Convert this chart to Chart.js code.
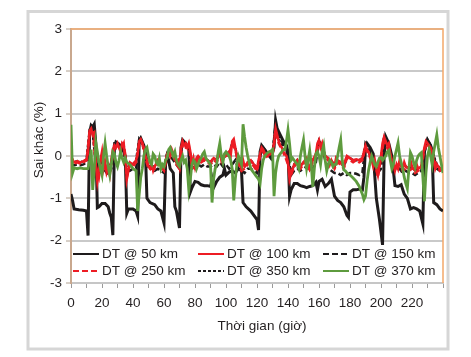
<!DOCTYPE html>
<html><head><meta charset="utf-8">
<script src="https://cdn.jsdelivr.net/npm/chart.js@4.4.1/dist/chart.umd.min.js"></script>
<style>html,body{margin:0;padding:0;background:#fff}#wrap{width:471px;height:357px;position:relative}</style>
</head><body><div id="wrap"><canvas id="c" width="471" height="357"></canvas></div>
<script>
// ---- data ----
const seriesLabels = ['DT @ 50 km','DT @ 100 km','DT @ 150 km','DT @ 250 km','DT @ 350 km','DT @ 370 km'];
const xTickLabels = [0,20,40,60,80,100,120,140,160,180,200,220];
const yTickLabels = [-3,-2,-1,0,1,2,3];

const dt50Hours = [0,1,2,5,8,10,11,12,13,14, 15,16,17,18,20,22,24,25,26,27, 28,29,31,33,35,36,37,40,42,43, 44,45,47,48,49,51,54,56,58,60, 61,62,63,64,66,67,68,70,71,72,
 74,76,77,78,80,82,84,86,88,90, 91,92,94,96,98,99,100,102,104,106, 108,110,111,113,116,118,120,121,122,123, 125,127,129,131,132,133,135,137,139,140,
 141,142,144,146,148,150,152,154,156,158, 159,160,162,164,166,168,170,172,174,176, 178,179,180,182,184,186,188,189,190,191, 193,195,197,199,201,202,203,205,207,209,
 211,213,215,217,219,221,223,225,227,228, 230,232,233,234,236,238,240];
const dt50Values = [-0.9,-1.05,-1.25,-1.27,-1.28,-1.3,-1.88,0.55,0.72,0.68, 0.75,0.3,-1.22,-1.2,-1.12,-1.12,-1.2,-1.35,-1.45,-1.87, 0.2,0.33,0.28,0.2,0.0,-1.35,-1.25,-1.25,-1.3,-1.42, 0.35,0.42,0.25,0.1,-1.0,-1.1,-1.15,-1.25,-1.3,-1.58, -0.2,0.0,-0.1,-0.3,-0.4,-1.2,-1.3,-1.7,0.2,0.38,
 0.3,0.15,-0.85,-0.75,-0.6,-0.62,-0.68,-0.7,-0.7,-0.72, -0.55,-0.75,-0.6,-0.5,-0.45,-0.3,-0.45,-0.38,-0.35,-0.4, -0.3,-0.35,-1.1,-1.2,-1.3,-1.4,-1.5,-1.75,0.1,0.25, 0.15,0.05,-0.05,0.2,0.84,0.65,0.5,0.35,0.25,0.1,
 -0.95,-0.8,-0.65,-0.65,-0.7,-0.72,-0.75,-0.72,-0.7,-0.62, -0.8,-0.6,-0.55,-0.72,-0.65,-0.55,-0.95,-1.05,-1.1,-1.2, -1.4,-1.45,-0.85,-0.8,-0.8,-0.78,-0.8,-0.5,0.2,0.3, 0.2,0.05,-1.0,-1.5,-2.1,0.0,0.46,0.3,0.0,-0.7,
 -0.72,-0.68,-0.9,-1.0,-1.25,-1.22,-1.25,-1.3,-1.6,0.1, 0.38,0.25,0.1,-1.1,-1.15,-1.25,-1.3];

const dt100Hours = [0,1,2,4,6,8,10,11,12,13, 14,15,16,17,18,19,20,21,22,23, 24,25,26,27,28,29,30,31,32,33, 34,35,36,37,38,40,42,43,44,45, 46,47,48,49,50,51,52,53,54,56,
 58,60,61,62,63,64,65,66,67,68, 69,70,71,72,73,74,75,76,77,78, 79,80,81,82,84,86,88,90,92,94, 95,96,97,98,100,102,103,104,105,106, 107,108,110,111,112,114,116,118,120,121,
 122,123,124,126,128,130,131,132,133,134, 135,136,137,138,139,140,141,142,143,144, 146,148,150,152,154,156,158,159,160,161, 162,163,164,166,167,168,170,171,172,174, 176,177,178,180,182,184,186,188,189,190,
 191,192,194,195,196,197,198,199,200,201, 202,203,204,205,206,207,208,209,210,211, 212,213,214,215,216,218,219,220,222,223, 224,226,227,228,229,230,231,232,233,234, 235,236,238,240];
const dt100Values = [0.0,-0.1,-0.15,-0.12,-0.15,-0.12,-0.08,0.1,0.6,0.65, 0.5,0.55,-0.2,-0.6,-0.35,-0.1,0.1,-0.3,-0.15,-0.4, -0.3,-0.45,-0.1,0.15,0.25,0.2,0.3,0.2,0.1,0.3, 0.25,0.05,-0.55,-0.35,-0.15,-0.2,-0.1,0.05,0.35,0.4, 0.3,0.2,0.0,-0.1,-0.25,-0.3,-0.2,-0.35,-0.25,-0.1,
 -0.2,-0.3,-0.15,0.05,0.1,0.0,0.15,0.05,-0.05,-0.15, -0.1,-0.25,0.2,0.35,0.25,0.3,0.2,0.3,0.1,-0.2, -0.05,-0.25,-0.05,0.0,-0.1,-0.05,-0.1,-0.15,-0.05,-0.1, 0.05,0.1,-0.1,0.0,0.05,0.1,0.0,0.35,0.4,0.2, 0.0,-0.15,-0.3,-0.1,-0.25,-0.15,-0.1,-0.2,-0.3,-0.1,
 0.05,0.2,0.15,0.0,0.1,0.05,0.3,0.65,0.5,0.35, 0.25,0.2,0.1,0.05,0.0,-0.15,-0.55,-0.4,-0.3,-0.2, -0.1,-0.25,-0.15,-0.05,-0.3,-0.1,0.05,0.3,0.38,0.2, 0.3,0.1,0.0,-0.05,-0.2,-0.1,-0.25,-0.05,-0.1,-0.15, -0.25,-0.1,0.0,-0.05,-0.1,-0.08,-0.1,-0.05,0.1,0.25,
 0.15,0.1,-0.1,-0.25,-0.1,-0.3,-0.45,-0.2,0.0,0.3, 0.45,0.35,0.25,0.3,0.05,-0.1,-0.2,-0.35,-0.2,-0.3, -0.1,-0.25,-0.3,-0.15,-0.25,-0.3,-0.1,-0.25,-0.35,-0.2, -0.3,-0.25,0.0,0.2,0.35,0.3,0.25,0.2,0.1,-0.1, -0.3,-0.2,-0.3,-0.25];

// two-hourly readings (0, 2, 4 ... 240 h)
const dt150Values = [-0.2,-0.22,-0.2,-0.22,-0.2,-0.15,0.5,0.7,0.1,-0.4, -0.3,-0.35,-0.45,-0.3,0.3,0.3,0.2,0.15,-0.3,-0.35, -0.3,-0.3,0.35,0.3,0.1,-0.25,-0.3,-0.35,-0.3,-0.35, -0.4,0.05,0.0,-0.1,-0.2,-0.3,0.35,0.25,0.2,-0.3,
 -0.25,-0.2,-0.25,-0.2,-0.25,-0.25,-0.2,-0.25,-0.15,-0.25, -0.2,-0.3,-0.2,-0.1,-0.3,-0.35,-0.4,-0.3,-0.3,-0.35, -0.4,0.0,0.2,0.1,0.0,0.05,0.75,0.45,0.35,0.2, 0.05,-0.45,-0.35,-0.3,-0.35,-0.3,-0.25,-0.35,-0.3,-0.15,
 0.35,0.2,-0.1,-0.3,-0.35,-0.4,-0.4,-0.45,-0.4,-0.45, -0.4,-0.4,-0.42,-0.45,-0.4,0.3,0.2,0.0,-0.3,-0.4, -0.3,0.4,0.25,0.0,-0.3,-0.35,-0.3,-0.4,-0.35,-0.4, -0.4,-0.45,-0.4,-0.35,0.1,0.38,0.25,0.0,-0.3,-0.35, -0.3];
const dt250Values = [0.0,-0.18,-0.15,-0.18,-0.15,-0.1,0.55,0.6,-0.25,-0.5, 0.05,-0.2,-0.35,-0.2,0.2,0.25,0.15,0.3,-0.5,-0.2, -0.25,-0.15,0.3,0.3,-0.05,-0.3,-0.3,-0.3,-0.15,-0.25, -0.35,0.0,0.05,0.0,-0.2,-0.3,0.3,0.2,0.25,-0.25,
 -0.3,-0.05,-0.15,-0.1,-0.15,-0.2,-0.1,-0.15,0.05,-0.05, 0.0,0.05,0.3,0.15,-0.2,-0.35,-0.3,-0.2,-0.15,-0.25, -0.35,0.0,0.1,-0.05,0.05,0.0,0.6,0.3,0.15,0.0, -0.2,-0.45,-0.25,-0.15,-0.3,-0.2,-0.1,-0.35,-0.15,0.0,
 0.3,0.25,-0.05,-0.1,-0.15,-0.3,-0.15,-0.2,-0.3,-0.05, -0.1,-0.15,-0.1,-0.15,-0.1,0.2,0.05,-0.15,-0.15,-0.5, -0.05,0.4,0.2,0.0,-0.25,-0.25,-0.15,-0.35,-0.3,-0.35, -0.3,-0.4,-0.35,-0.3,0.15,0.3,0.15,-0.05,-0.25,-0.35, -0.3];
const dt350Values = [-0.1,-0.15,-0.12,-0.15,-0.12,-0.1,0.6,0.55,-0.2,-0.45, 0.0,-0.25,-0.35,-0.15,0.25,0.3,0.15,0.25,-0.45,-0.2, -0.2,-0.1,0.4,0.3,0.0,-0.25,-0.25,-0.25,-0.15,-0.2, -0.3,0.05,0.05,0.05,-0.15,-0.2,0.35,0.25,0.25,-0.2,
 -0.2,0.0,-0.1,-0.1,-0.1,-0.15,-0.05,-0.1,0.05,-0.05, 0.0,0.05,0.3,0.2,-0.15,-0.3,-0.25,-0.15,-0.1,-0.2, -0.3,0.05,0.15,0.0,0.05,0.05,0.7,0.4,0.25,0.1, -0.1,-0.4,-0.2,-0.1,-0.25,-0.15,-0.1,-0.3,-0.1,0.0,
 0.35,0.25,0.0,-0.1,-0.1,-0.25,-0.1,-0.15,-0.25,-0.05, -0.05,-0.1,-0.1,-0.1,-0.05,0.25,0.1,-0.1,-0.15,-0.4, -0.05,0.45,0.25,0.0,-0.2,-0.3,-0.15,-0.3,-0.25,-0.3, -0.25,-0.35,-0.3,-0.25,0.15,0.35,0.2,0.0,-0.2,-0.3, -0.3];

const dt370Hours = [0,1,2,4,6,8,10,11,12,13, 14,15,16,17,18,19,20,21,22,23, 24,25,26,27,28,29,30,31,32,33, 34,35,36,38,40,42,43,44,45,46, 47,48,49,50,51,52,53,54,55,56,
 57,58,59,60,61,62,63,64,65,66, 67,68,69,70,71,72,73,74,75,76, 77,78,79,80,81,82,83,84,85,86, 87,88,89,90,91,92,93,94,95,96, 97,98,99,100,101,102,103,104,105,106,
 107,108,109,110,111,112,113,114,115,116, 117,118,119,120,121,122,123,124,125,126, 127,128,129,130,131,132,133,134,135,136, 137,138,139,140,141,142,143,144,145,146, 147,148,149,150,151,152,153,154,155,156,
 157,158,159,160,161,162,163,164,165,166, 167,168,169,170,171,172,173,174,175,176, 177,178,180,182,184,186,188,189,190,191, 192,193,194,195,196,197,198,199,200,201, 202,203,204,205,206,207,208,209,210,211,
 212,213,214,215,216,217,218,219,220,221, 222,223,224,225,226,227,228,229,230,231, 232,233,234,235,236,237,238,239,240];
const dt370Values = [0.74,-0.4,-0.28,-0.3,-0.28,-0.3,-0.3,-0.3,-0.1,0.15, -0.8,-0.3,0.32,0.1,-0.15,-0.3,-0.45,0.0,0.3,0.0, -0.25,-0.45,-0.2,0.1,0.05,-0.15,-0.25,-0.1,0.1,-0.05, -0.15,-0.05,-0.15,-0.2,-0.3,-0.35,-1.3,-0.9,-0.5,-0.3, 0.0,0.15,0.2,0.0,-0.15,-0.2,0.05,0.0,-0.15,-0.2,
 -0.05,-0.3,-0.2,-0.25,-0.1,-0.05,0.15,0.2,0.1,0.0, 0.1,-0.1,-0.2,-0.25,-0.1,0.0,-0.15,-0.1,-0.3,-0.8, -0.55,-0.2,-0.1,-0.15,-0.3,-0.2,-0.1,-0.05,0.05,0.1, -0.05,-0.1,-0.15,-0.2,-1.1,-0.55,-0.3,-0.2,0.1,0.3, 0.0,-0.15,0.05,0.1,0.05,0.0,-0.1,-0.3,-1.05,-0.55,
 -0.2,0.0,-0.1,-0.2,0.75,0.45,0.2,0.0,-0.15,-0.3, -0.35,-0.4,-0.45,-0.5,-0.55,-0.65,-0.3,-0.1,0.0,0.05, 0.08,0.1,0.12,0.15,-0.95,-0.4,-0.15,0.0,0.05,0.1, 0.15,0.15,0.35,0.62,0.3,-0.1,-0.05,-0.1,-0.15,-0.2, -0.3,0.0,0.2,0.38,0.0,-0.3,-0.1,0.13,-0.2,-0.73,
 -0.3,0.05,0.1,0.0,-0.2,0.1,0.25,-0.1,-0.35,-0.2, -0.1,-0.15,-0.25,-0.2,-0.2,0.0,0.2,0.38,-0.1,-0.33, -0.35,-0.4,-0.45,-0.52,-0.6,-0.72,-0.9,-1.03,-0.95,-0.6, -0.33,-0.15,0.0,-0.1,-0.2,-0.25,-0.15,-0.05,-0.04,-0.1, -0.05,0.0,0.1,0.13,-0.1,-0.3,-0.2,0.0,0.15,0.31,
 0.0,-0.15,-0.3,-0.5,-0.65,-0.77,-0.3,0.08,0.0,-0.15, -0.27,-0.1,0.0,0.05,0.08,-0.5,-1.07,-0.4,0.0,0.15, 0.0,-0.2,0.1,0.3,0.5,0.2,0.0,-0.2,-0.4];

const twoHourly = dt150Values.map((_, i) => i * 2);

// ---- build ----
const pts = (hours, vals) => hours.map((h, i) => ({x: h, y: vals[i]}));
const FONT = '"Liberation Sans", Arial, sans-serif';
const TXT = '#231f20';
const styles = [
  {color:'#1e1b1c', width:3, dash:[], order:6},
  {color:'#ed1c24', width:2.5, dash:[], order:2},
  {color:'#1e1b1c', width:2.5, dash:[6,3], order:4},
  {color:'#ed1c24', width:2.5, dash:[6,3], order:3},
  {color:'#1e1b1c', width:2.5, dash:[3,2], order:5},
  {color:'#5e9b3e', width:2.8, dash:[], order:1}
];
const dataSets = [
  pts(dt50Hours, dt50Values),
  pts(dt100Hours, dt100Values),
  pts(twoHourly, dt150Values),
  pts(twoHourly, dt250Values),
  pts(twoHourly, dt350Values),
  pts(dt370Hours, dt370Values)
];
const datasets = seriesLabels.map((lab, i) => ({
  label: lab, data: dataSets[i], borderColor: styles[i].color, backgroundColor: styles[i].color,
  borderWidth: styles[i].width, borderDash: styles[i].dash, order: styles[i].order,
  pointRadius: 0, tension: 0, fill: false, borderJoinStyle: 'miter', borderCapStyle: 'butt'
}));

const framePlugin = {
  id: 'frame',
  beforeDraw(chart) {
    const ctx = chart.ctx;
    ctx.save();
    ctx.fillStyle = '#fff';
    ctx.fillRect(0, 0, chart.width, chart.height);
    ctx.strokeStyle = '#d6d6d6';
    ctx.lineWidth = 3;
    ctx.strokeRect(28, 11.5, 420, 337.5);
    ctx.restore();
  },
  beforeDatasetsDraw(chart) {
    const {ctx, chartArea: a} = chart;
    ctx.save();
    ctx.strokeStyle = '#f3a86a';
    ctx.lineWidth = 1.5;
    ctx.beginPath();
    ctx.moveTo(a.left, a.top); ctx.lineTo(a.right, a.top); ctx.lineTo(a.right, a.bottom);
    ctx.stroke();
    ctx.restore();
  },
  afterDraw(chart) {
    const ctx = chart.ctx;
    ctx.save();
    // legend
    const cols = [73, 198, 323], rows = [254, 271];
    chart.data.datasets.forEach((ds, i) => {
      const x0 = cols[i % 3], y = rows[Math.floor(i / 3)];
      ctx.strokeStyle = ds.borderColor;
      ctx.lineWidth = 2;
      ctx.setLineDash(ds.borderDash || []);
      ctx.beginPath(); ctx.moveTo(x0, y); ctx.lineTo(x0 + 26, y); ctx.stroke();
      ctx.setLineDash([]);
      ctx.fillStyle = TXT;
      ctx.font = '13.5px ' + FONT;
      ctx.textBaseline = 'middle';
      ctx.textAlign = 'left';
      ctx.fillText(ds.label, x0 + 29, y + 0.5);
    });
    // axis titles
    ctx.font = '13.5px ' + FONT;
    ctx.fillStyle = TXT;
    ctx.textAlign = 'center';
    ctx.textBaseline = 'middle';
    ctx.fillText('Thời gian (giờ)', 262, 326);
    ctx.translate(39, 140);
    ctx.rotate(-Math.PI / 2);
    ctx.fillText('Sai khác (%)', 0, 0);
    ctx.restore();
  }
};

new Chart(document.getElementById('c'), {
  type: 'line',
  data: { datasets },
  options: {
    responsive: false, animation: false, devicePixelRatio: 1,
    layout: { padding: { left: 0, top: 29, right: 28, bottom: 0 } },
    plugins: { legend: { display: false }, tooltip: { enabled: false }, title: { display: false } },
    scales: {
      x: {
        type: 'linear', min: 0, max: 240,
        afterFit(s) { s.height = 74; },
        afterBuildTicks(s) { s.ticks = []; for (let v = 0; v <= 240; v += 10) s.ticks.push({value: v}); },
        ticks: {
          autoSkip: false, maxRotation: 0, padding: 7, color: TXT, font: { family: FONT, size: 13.5 },
          callback: (v) => xTickLabels.includes(v) ? String(v) : ''
        },
        grid: { drawOnChartArea: false, drawTicks: true, tickLength: 5, tickColor: '#9a9a9a', tickWidth: 1 },
        border: { color: '#c6c6c6', width: 2 }
      },
      y: {
        min: -3, max: 3,
        afterFit(s) { s.width = 71; },
        afterBuildTicks(s) { s.ticks = yTickLabels.map(v => ({value: v})); },
        ticks: { padding: 4, color: TXT, font: { family: FONT, size: 13.5 }, callback: (v) => String(v) },
        grid: { color: '#c9c9c9', lineWidth: 2, tickLength: 5, tickColor: '#b0a090', tickWidth: 1 },
        border: { color: '#c9a88e', width: 2 }
      }
    }
  },
  plugins: [framePlugin]
});
</script></body></html>
